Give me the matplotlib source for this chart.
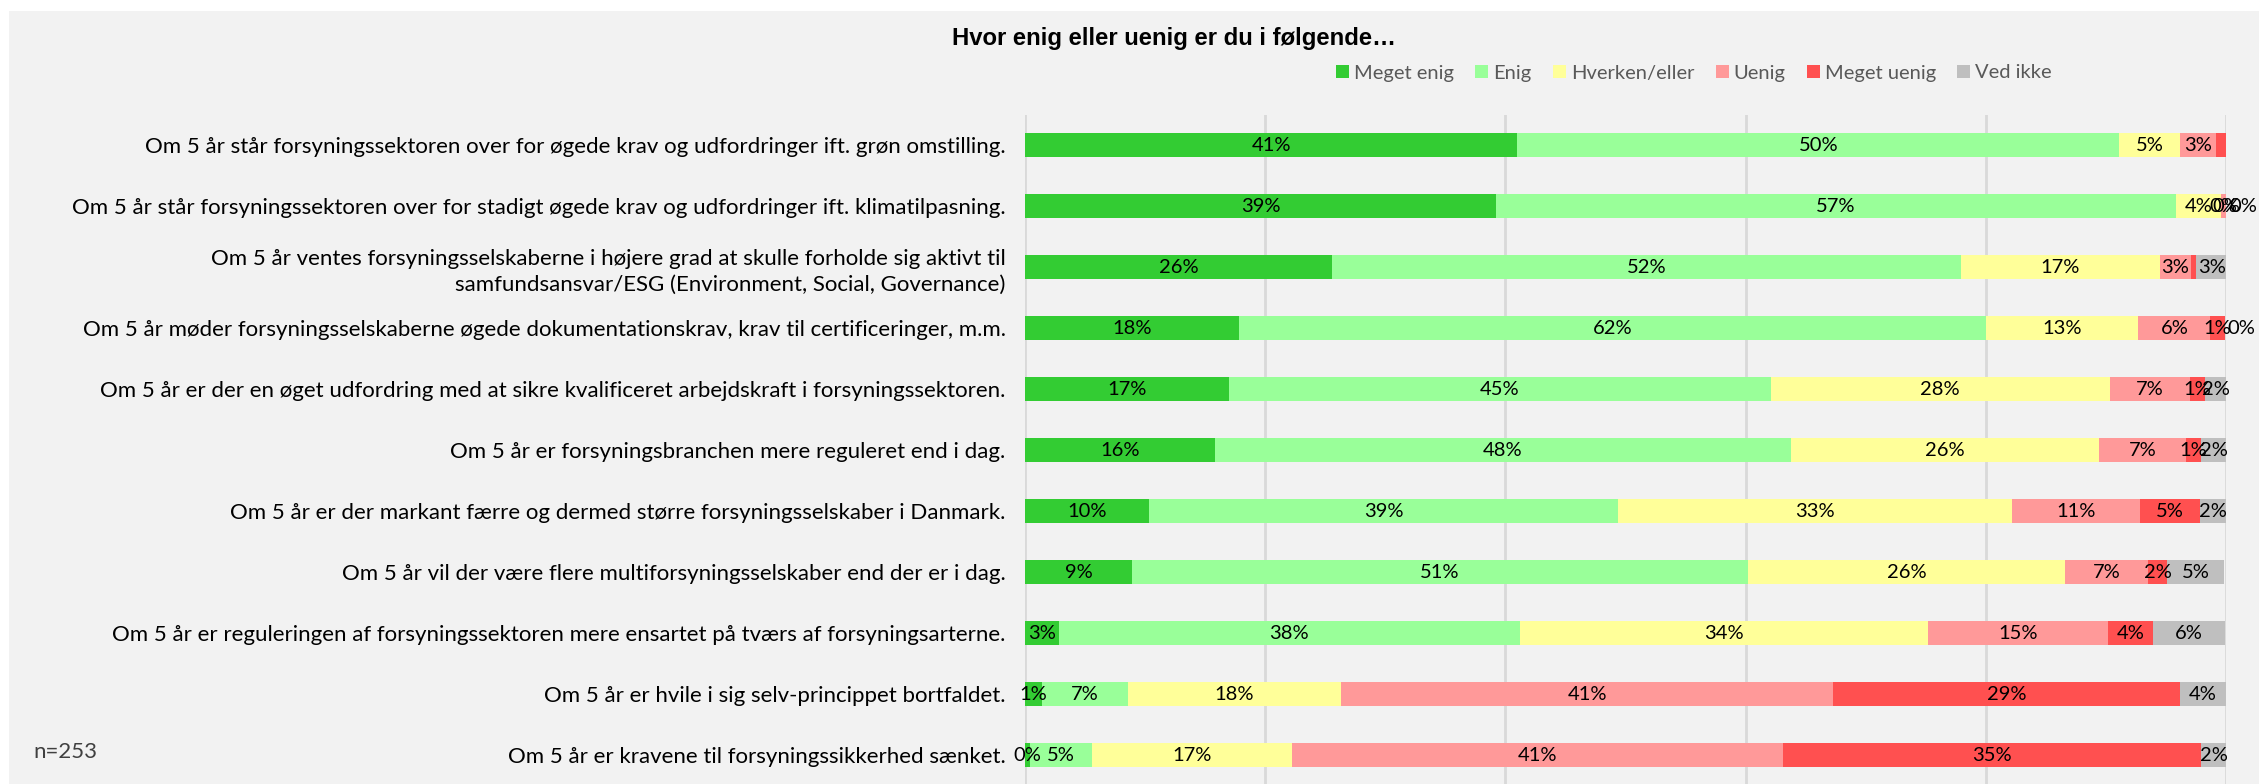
"""Stacked horizontal bar chart: Hvor enig eller uenig er du i følgende..."""

import matplotlib
matplotlib.use("Agg")
import matplotlib.pyplot as plt
from matplotlib.patches import Rectangle

statements = [
    "Om 5 år står forsyningssektoren over for øgede krav og udfordringer ift. grøn omstilling.",
    "Om 5 år står forsyningssektoren over for stadigt øgede krav og udfordringer ift. klimatilpasning.",
    "Om 5 år ventes forsyningsselskaberne i højere grad at skulle forholde sig aktivt til\n"
    "samfundsansvar/ESG (Environment, Social, Governance)",
    "Om 5 år møder forsyningsselskaberne øgede dokumentationskrav, krav til certificeringer, m.m.",
    "Om 5 år er der en øget udfordring med at sikre kvalificeret arbejdskraft i forsyningssektoren.",
    "Om 5 år er forsyningsbranchen mere reguleret end i dag.",
    "Om 5 år er der markant færre og dermed større forsyningsselskaber i Danmark.",
    "Om 5 år vil der være flere multiforsyningsselskaber end der er i dag.",
    "Om 5 år er reguleringen af forsyningssektoren mere ensartet på tværs af forsyningsarterne.",
    "Om 5 år er hvile i sig selv-princippet bortfaldet.",
    "Om 5 år er kravene til forsyningssikkerhed sænket.",
]

categories = ["Meget enig", "Enig", "Hverken/eller", "Uenig", "Meget uenig", "Ved ikke"]
colors = ["#33CC33", "#99FF99", "#FFFF99", "#FF9999", "#FF5050", "#BFBFBF"]

meget_enig = [41.0, 39.2, 25.6, 17.8, 17.0, 15.8, 10.3, 8.9, 2.8, 1.4, 0.4]
enig = [50.1, 56.6, 52.3, 62.2, 45.1, 48.0, 39.1, 51.3, 38.4, 7.2, 5.2]
hverken = [5.1, 3.8, 16.6, 12.7, 28.2, 25.6, 32.8, 26.4, 34.0, 17.7, 16.6]
uenig = [3.0, 0.4, 2.6, 6.0, 6.7, 7.3, 10.6, 6.9, 15.0, 41.0, 40.9]
meget_uenig = [0.8, 0.0, 0.4, 1.2, 1.25, 1.2, 5.0, 1.6, 3.7, 28.9, 34.8]
ved_ikke = [0.0, 0.0, 2.6, 0.0, 1.75, 2.2, 2.2, 4.7, 6.0, 3.8, 2.2]

# data labels that were removed in the original chart (row, series)
hidden_labels = {(0, 4), (0, 5), (2, 4)}

series = [meget_enig, enig, hverken, uenig, meget_uenig, ved_ikke]

FONT = "Lato"
plt.rcParams["font.family"] = [FONT, "DejaVu Sans"]

fig = plt.figure(figsize=(22.59, 7.84), dpi=100, facecolor="white")
fig.patches.append(Rectangle((9 / 2259, 0), 1, 1 - 11 / 784, transform=fig.transFigure,
                             facecolor="#F2F2F2", edgecolor="none", zorder=-1))

ax = fig.add_axes([1025 / 2259, -0.002, 1201 / 2259, 0.8559])
ax.set_facecolor("none")

y = list(range(len(statements)))
left = [0.0] * len(statements)
for j, (vals, cat, col) in enumerate(zip(series, categories, colors)):
    ax.barh(y, vals, left=left, height=0.4, color=col, label=cat, zorder=2)
    for i, v in enumerate(vals):
        if (i, j) in hidden_labels:
            continue
        if v == 0 and j == len(series) - 1:
            ax.text(left[i] + 0.25, i, f"{round(v)}%", ha="left", va="center",
                    fontsize=14.5, color="black", zorder=3)
        else:
            ax.text(left[i] + v / 2, i, f"{round(v)}%", ha="center", va="center",
                    fontsize=14.5, color="black", zorder=3)
    left = [l + v for l, v in zip(left, vals)]

ax.set_xlim(0, 100)
ax.set_ylim(len(statements) - 0.5, -0.5)
ax.set_xticks([0, 20, 40, 60, 80, 100])
ax.set_xticklabels([])
ax.tick_params(axis="x", length=0)
ax.grid(axis="x", color="#D9D9D9", linewidth=2, zorder=0)
ax.set_yticks(y)
ax.set_yticklabels(statements, fontsize=16, color="black", linespacing=1.35)
ax.tick_params(axis="y", length=0, pad=14)
for s in ax.spines.values():
    s.set_visible(False)

fig.text(1174 / 2259, 1 - 38 / 784, "Hvor enig eller uenig er du i følgende…",
         ha="center", va="center", fontsize=17.2, fontweight="bold",
         family=["Liberation Sans", "DejaVu Sans"])

fig.legend(loc="center", bbox_to_anchor=(1694 / 2259, 1 - 73 / 784), ncol=6,
           frameon=False, fontsize=14.5, labelcolor="#595959",
           handlelength=0.65, handleheight=0.65, handletextpad=0.25,
           columnspacing=1.05)

fig.text(33 / 2259, 1 - 752 / 784, "n=253", ha="left", va="center",
         fontsize=16, color="#404040")

fig.savefig("out.png", dpi=100, facecolor=fig.get_facecolor())
